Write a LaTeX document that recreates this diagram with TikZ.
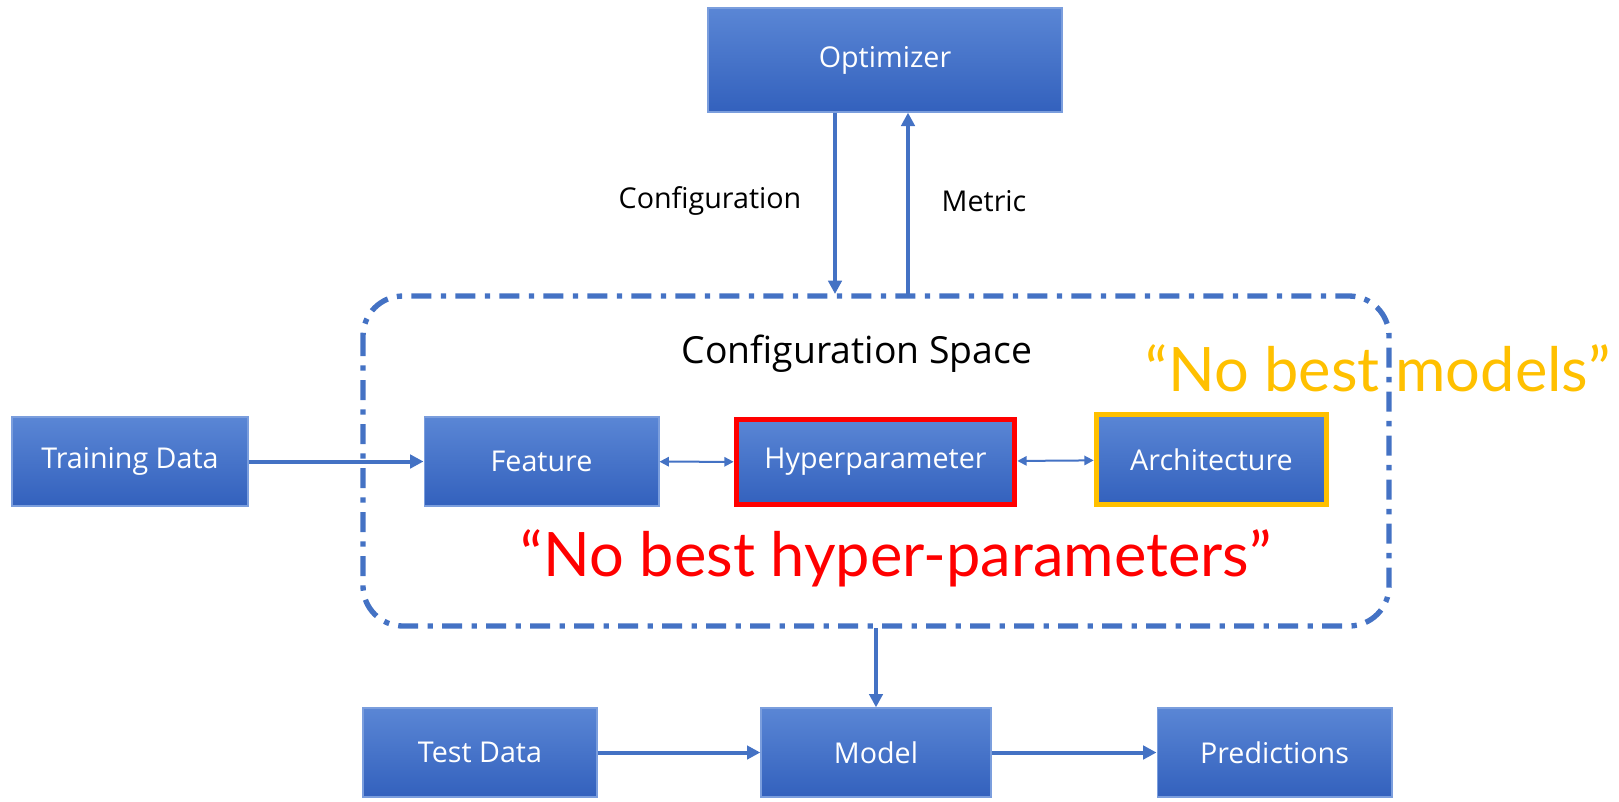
\documentclass[tikz,border=0pt]{standalone}
\usepackage{fontspec}
\setmainfont{Open Sans}
\newfontfamily\quotefont{Lato}
\usetikzlibrary{arrows.meta}
\definecolor{blueline}{HTML}{4472C4}
\definecolor{bluetop}{HTML}{5A86D5}
\definecolor{bluebot}{HTML}{3361BD}
\definecolor{warnred}{HTML}{FF0000}
\definecolor{warnyellow}{HTML}{FFC000}
\begin{document}
\begin{tikzpicture}[x=0.75pt,y=-0.75pt,
    blk/.style={draw=bluetop!80!white,line width=1pt,top color=bluetop,bottom color=bluebot,
      text=white,font=\fontsize{21.5}{25}\selectfont,minimum height=66.75pt,inner sep=0pt},
    lbl/.style={font=\fontsize{21.5}{25}\selectfont},
    link/.style={draw=blueline,line width=3pt,-{Triangle[length=10pt,width=10pt]}},
    thin/.style={draw=blueline,line width=1.5pt,{Triangle[length=7pt,width=7pt]}-{Triangle[length=7pt,width=7pt]}},
    note/.style={font=\quotefont\fontsize{46}{52}\selectfont}]
  \useasboundingbox (0,0) rectangle (1619,801);
  % config space
  \draw[blueline,line width=4pt,rounded corners=30pt,
    dash pattern=on 15pt off 7pt on 4pt off 7pt]
    (363,296) rectangle (1389,626);
  \node[lbl,font=\fontsize{28}{33}\selectfont] (cs) at (857,354) {Configuration Space};
  % blocks
  \node[blk,minimum width=265.5pt,minimum height=78pt] (opt) at (885,60) {Optimizer};
  \node[blk,minimum width=177pt] (train) at (130,461.5) {Training Data};
  \node[blk,minimum width=176pt] (feat) at (541.5,461.5) {Feature};
  \node[blk,minimum width=209pt,minimum height=64pt,draw=warnred,line width=3.75pt] (hyper) at (875.5,462) {Hyperparameter};
  \node[blk,minimum width=173pt,minimum height=67pt,draw=warnyellow,line width=3.75pt] (arch) at (1211.5,459.5) {Architecture};
  \node[blk,minimum width=175.5pt] (test) at (480,752.5) {Test Data};
  \node[blk,minimum width=172.5pt] (model) at (876,752.5) {Model};
  \node[blk,minimum width=176pt] (pred) at (1274.5,752.5) {Predictions};
  % points on the dashed frame
  \coordinate (cdown) at (835,294);
  \coordinate (mup) at (908,294);
  \coordinate (cout) at (876,628);
  % labels
  \node[lbl] (cfg) at (710,201) {Configuration};
  \node[lbl] (met) at (984,201) {Metric};
  \node[note,text=warnyellow] (nbm) at (1378,368) {“No best models”};
  \node[note,text=warnred] (nbh) at (896,558) {“No best hyper-parameters”};
  % connectors
  \begin{scope}
    \draw[link] (opt.south -| cdown) to (cdown);
    \draw[link] (mup) to (opt.south -| mup);
    \draw[link] (train) to (feat);
    \draw[thin] (feat) to (hyper);
    \draw[thin] (hyper) to (arch);
    \draw[link] (cout) to (model);
    \draw[link] (test) to (model);
    \draw[link] (model) to (pred);
  \end{scope}
\end{tikzpicture}
\end{document}
